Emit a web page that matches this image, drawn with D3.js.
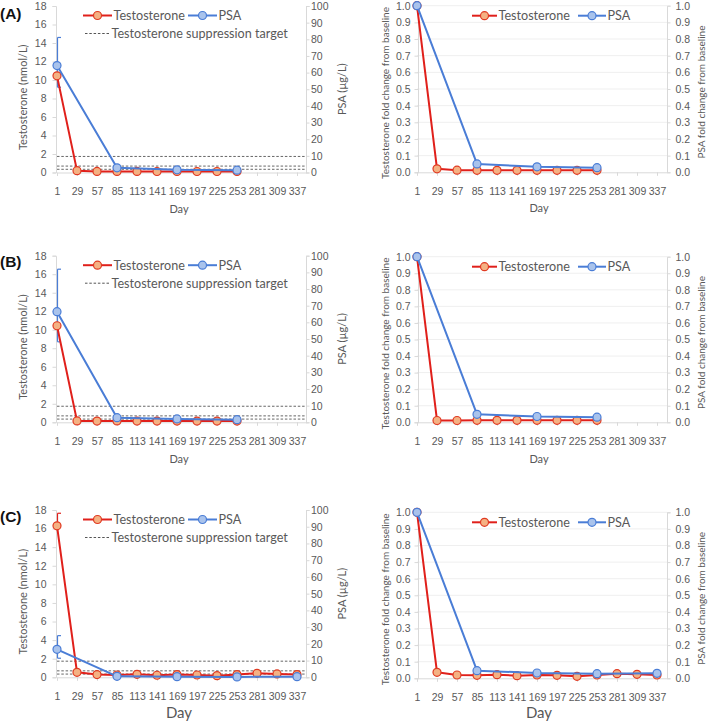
<!DOCTYPE html>
<html><head><meta charset="utf-8">
<script src="https://cdn.jsdelivr.net/npm/d3@7/dist/d3.min.js"></script>
<style>
html,body{margin:0;padding:0;background:#fff;}
svg{display:block;font-family:Lato,"Open Sans",sans-serif;}
</style></head>
<body>
<svg id="chart" width="709" height="721"></svg>
<script>
// ---------------- DATA ----------------
const days = [1, 29, 57, 85, 113, 141, 169, 197, 225, 253, 281, 309, 337];
const testoTicks = [0, 2, 4, 6, 8, 10, 12, 14, 16, 18];
const psaTicks = [0, 10, 20, 30, 40, 50, 60, 70, 80, 90, 100];
const foldTicks = [0, 0.1, 0.2, 0.3, 0.4, 0.5, 0.6, 0.7, 0.8, 0.9, 1.0];
const suppressionTargets = [1.735, 0.694, 0.347]; // nmol/L (50, 20, 10 ng/dL)
const panelLabels = ["(A)", "(B)", "(C)"];

// Testosterone (nmol/L) by day (null = not measured)
const testoA = [10.45, 0.2, 0.12, 0.12, 0.12, 0.11, 0.11, 0.11, 0.11, 0.11, null, null, null];
const testoB = [10.43, 0.15, 0.13, 0.15, 0.13, 0.13, 0.13, 0.13, 0.13, 0.13, null, null, null];
const testoC = [16.3, 0.54, 0.29, 0.25, 0.32, 0.22, 0.29, 0.25, 0.18, 0.29, 0.43, 0.36, 0.29];
// PSA (µg/L) by day
const psaA = [64.2, null, null, 2.8, null, null, 1.6, null, null, 1.4, null, null, null];
const psaB = [66.4, null, null, 2.8, null, null, 2.0, null, null, 1.6, null, null, null];
const psaC = [16.7, null, null, 0.6, null, null, 0.4, null, null, 0.25, null, null, 0.4];
// Error bars at day 1 [low, high]
const psaErrA = [51.2, 81.1];
const psaErrB = [48.3, 91.9];
const psaErrC = [11.4, 24.9];
const testoErrC = [16.3, 17.65];

// Fold change from baseline
const foldTestoA = [1, 0.021, 0.013, 0.012, 0.012, 0.012, 0.012, 0.012, 0.012, 0.012, null, null, null];
const foldTestoB = [1, 0.011, 0.011, 0.012, 0.012, 0.012, 0.012, 0.012, 0.012, 0.012, null, null, null];
const foldTestoC = [1, 0.036, 0.02, 0.018, 0.022, 0.016, 0.02, 0.018, 0.012, 0.02, 0.028, 0.024, 0.02];
const foldPsaA = [1, null, null, 0.05, null, null, 0.033, null, null, 0.028, null, null, null];
const foldPsaB = [1, null, null, 0.048, null, null, 0.035, null, null, 0.031, null, null, null];
const foldPsaC = [1, null, null, 0.046, null, null, 0.032, null, null, 0.028, null, null, 0.03];

// ---------------- STYLE ----------------
const RED = "#e0201b", RED_FILL = "#f4b183", RED_STROKE = "#e03a22";
const BLUE = "#4a7dd6", BLUE_FILL = "#a9c3ec", BLUE_STROKE = "#4a7dd6";
const AXIS = "#d9d9d9", TXT = "#595959", GRID = "#efefef";
const TICKFS = 10.5;

const svg = d3.select("#chart");

function pts(vals) {
  return days.map((d, i) => ({ d, v: vals[i] })).filter(p => p.v != null);
}

function drawSeries(g, x, y, vals, color, fill, stroke) {
  const p = pts(vals);
  g.append("path").datum(p)
    .attr("fill", "none").attr("stroke", color).attr("stroke-width", 2)
    .attr("stroke-linejoin", "round")
    .attr("d", d3.line().x(q => x(q.d)).y(q => y(q.v)));
  g.selectAll(null).data(p).enter().append("circle")
    .attr("cx", q => x(q.d)).attr("cy", q => y(q.v)).attr("r", 4)
    .attr("fill", fill).attr("stroke", stroke).attr("stroke-width", 1.2);
}

function errBar(g, x, y, day, lo, hi, color) {
  const cx = x(day) + 0.5;
  g.append("line").attr("x1", cx).attr("x2", cx).attr("y1", y(lo)).attr("y2", y(hi))
    .attr("stroke", color).attr("stroke-width", 1.2);
  [lo, hi].forEach(v => g.append("line").attr("x1", cx).attr("x2", cx + 3.5)
    .attr("y1", y(v)).attr("y2", y(v)).attr("stroke", color).attr("stroke-width", 1.2));
}

function styleAxis(a) {
  a.selectAll(".domain").attr("stroke", AXIS).attr("stroke-width", 1);
  a.selectAll(".tick line").attr("stroke", AXIS);
  a.selectAll(".tick text").attr("fill", TXT).attr("font-size", TICKFS);
}

function xAxis(g, x, yb, labelY, dayFs) {
  const a = g.append("g").attr("transform", `translate(0,${yb})`)
    .call(d3.axisBottom(x).tickValues(days).tickSize(3.5).tickSizeOuter(0).tickPadding(11.5));
  styleAxis(a);
  g.append("text").attr("x", (x.range()[0] + x.range()[1]) / 2 - 3).attr("y", labelY)
    .attr("text-anchor", "middle").attr("fill", TXT).attr("font-size", dayFs).text("Day");
}

function legendItem(g, x1, x2, yy, color, fill, stroke, label, dashed, fs) {
  const l = g.append("line").attr("x1", x1).attr("x2", x2).attr("y1", yy).attr("y2", yy);
  if (dashed) {
    l.attr("stroke", "#555").attr("stroke-width", 1).attr("stroke-dasharray", "2.5,1.8");
  } else {
    l.attr("stroke", color).attr("stroke-width", 2);
    g.append("circle").attr("cx", (x1 + x2) / 2).attr("cy", yy).attr("r", 4)
      .attr("fill", fill).attr("stroke", stroke).attr("stroke-width", 1.2);
  }
  g.append("text").attr("x", x2 + 1.5).attr("y", yy).attr("dy", "0.35em")
    .attr("fill", TXT).attr("font-size", fs || 12.6).text(label);
}

function leftPanel(cfg) {
  const g = svg.append("g");
  const x = d3.scaleLinear().domain([1, 351]).range([57, 307]);
  const yT = d3.scaleLinear().domain([0, 18]).range([cfg.yb, cfg.yt]);
  const yP = d3.scaleLinear().domain([0, 100]).range([cfg.yb, cfg.yt]);

  // suppression target lines
  suppressionTargets.forEach(t => g.append("line")
    .attr("x1", x.range()[0]).attr("x2", x.range()[1]).attr("y1", yT(t)).attr("y2", yT(t))
    .attr("stroke", "#666").attr("stroke-width", 1).attr("stroke-dasharray", "2.5,1.8"));

  const aL = g.append("g").attr("transform", `translate(${x.range()[0] - 1},0)`)
    .call(d3.axisLeft(yT).tickValues(testoTicks).tickSize(3.5).tickPadding(6));
  styleAxis(aL);
  const aR = g.append("g").attr("transform", `translate(${x.range()[1] - 1},0)`)
    .call(d3.axisRight(yP).tickValues(psaTicks).tickSize(3.5).tickPadding(1.5));
  styleAxis(aR);
  xAxis(g, x, cfg.yb, cfg.dayY, cfg.dayFs);

  if (cfg.testoErr) errBar(g, x, yT, 1, cfg.testoErr[0], cfg.testoErr[1], RED);
  errBar(g, x, yP, 1, cfg.psaErr[0], cfg.psaErr[1], BLUE);
  drawSeries(g, x, yT, cfg.testo, RED, RED_FILL, RED_STROKE);
  drawSeries(g, x, yP, cfg.psa, BLUE, BLUE_FILL, BLUE_STROKE);

  // axis titles
  const mid = (cfg.yt + cfg.yb) / 2;
  g.append("text").attr("transform", `translate(26.5,${mid + 8}) rotate(-90)`)
    .attr("text-anchor", "middle").attr("fill", TXT).attr("font-size", 11)
    .text("Testosterone (nmol/L)");
  g.append("text").attr("transform", `translate(346,${mid}) rotate(-90)`)
    .attr("text-anchor", "middle").attr("fill", TXT).attr("font-size", 11)
    .text("PSA (µg/L)");

  // legend
  legendItem(g, 83, 112, cfg.yt + 9.5, RED, RED_FILL, RED_STROKE, "Testosterone");
  legendItem(g, 188, 217, cfg.yt + 9.5, BLUE, BLUE_FILL, BLUE_STROKE, "PSA");
  legendItem(g, 85, 110, cfg.yt + 27.5, null, null, null, "Testosterone suppression target", true);

  // panel label
  g.append("text").attr("x", 0).attr("y", cfg.labelY).attr("dy", "0.35em")
    .attr("font-family", "'Liberation Sans',Arial,sans-serif").attr("font-weight", "bold")
    .attr("font-size", 15.5).attr("fill", "#111").text(cfg.label);
}

function rightPanel(cfg) {
  const g = svg.append("g");
  const x = d3.scaleLinear().domain([1, 351]).range([417, 667]);
  const y = d3.scaleLinear().domain([0, 1]).range([cfg.yb, cfg.yt]);

  foldTicks.slice(1).forEach(t => g.append("line")
    .attr("x1", x.range()[0]).attr("x2", x.range()[1]).attr("y1", y(t)).attr("y2", y(t))
    .attr("stroke", GRID).attr("stroke-width", 1));

  const aL = g.append("g").attr("transform", `translate(${x.range()[0] + 1},0)`)
    .call(d3.axisLeft(y).tickValues(foldTicks).tickSize(3.5).tickPadding(4).tickFormat(d3.format(".1f")));
  styleAxis(aL);
  const aR = g.append("g").attr("transform", `translate(${x.range()[1]},0)`)
    .call(d3.axisRight(y).tickValues(foldTicks).tickSize(3.5).tickPadding(5).tickFormat(d3.format(".1f")));
  styleAxis(aR);
  xAxis(g, x, cfg.yb, cfg.dayY, cfg.dayFs);

  drawSeries(g, x, y, cfg.testo, RED, RED_FILL, RED_STROKE);
  drawSeries(g, x, y, cfg.psa, BLUE, BLUE_FILL, BLUE_STROKE);

  const mid = (cfg.yt + cfg.yb) / 2;
  g.append("text").attr("transform", `translate(388.5,${mid + 4}) rotate(-90)`)
    .attr("text-anchor", "middle").attr("fill", TXT).attr("font-size", 10)
    .text("Testosterone fold change from baseline");
  g.append("text").attr("transform", `translate(705,${mid + 3}) rotate(-90)`)
    .attr("text-anchor", "middle").attr("fill", TXT).attr("font-size", 10)
    .text("PSA fold change from baseline");

  legendItem(g, 472, 497, cfg.yt + 10, RED, RED_FILL, RED_STROKE, "Testosterone");
  legendItem(g, 578, 606, cfg.yt + 10, BLUE, BLUE_FILL, BLUE_STROKE, "PSA");
}

leftPanel({ yt: 6, yb: 172.5, testo: testoA, psa: psaA, psaErr: psaErrA, label: panelLabels[0], labelY: 14, dayY: 213, dayFs: 11 });
leftPanel({ yt: 255.7, yb: 422.3, testo: testoB, psa: psaB, psaErr: psaErrB, label: panelLabels[1], labelY: 262, dayY: 462.5, dayFs: 11 });
leftPanel({ yt: 510, yb: 677.3, testo: testoC, psa: psaC, psaErr: psaErrC, testoErr: testoErrC, label: panelLabels[2], labelY: 517, dayY: 717.5, dayFs: 15 });

rightPanel({ yt: 5.7, yb: 172.3, testo: foldTestoA, psa: foldPsaA, dayY: 212, dayFs: 11 });
rightPanel({ yt: 256.7, yb: 422.3, testo: foldTestoB, psa: foldPsaB, dayY: 462.5, dayFs: 11 });
rightPanel({ yt: 512.3, yb: 678.3, testo: foldTestoC, psa: foldPsaC, dayY: 717.5, dayFs: 15 });
</script>
</body></html>
